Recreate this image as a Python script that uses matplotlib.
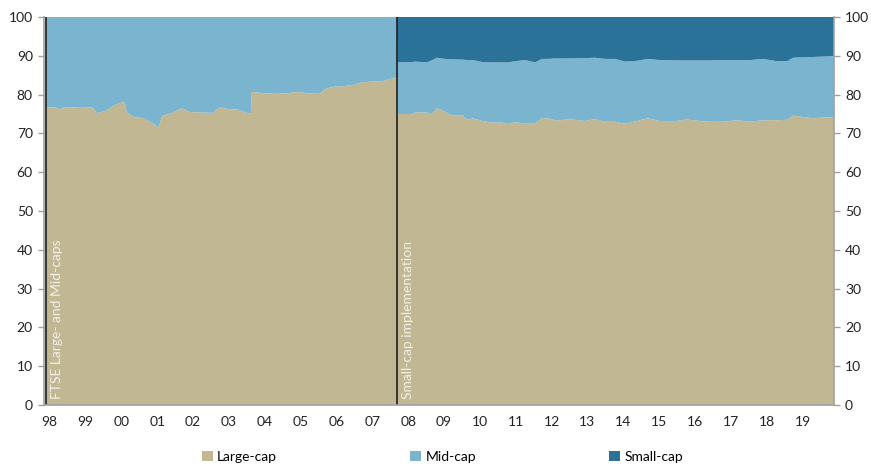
import matplotlib
matplotlib.use("Agg")
import matplotlib.pyplot as plt
from matplotlib.patches import Patch

plt.rcParams['font.family'] = ['Lato', 'DejaVu Sans']

# share of index by size bucket, %
dates = [
    1997.89, 1998.14, 1998.28, 1998.42, 1998.84, 1999.20, 1999.31, 1999.59, 1999.81, 1999.95,
    2000.09, 2000.15, 2000.37, 2000.60, 2000.79, 2000.93, 2001.04, 2001.13, 2001.43, 2001.68,
    2001.91, 2002.19, 2002.55, 2002.74, 2003.02, 2003.22, 2003.53, 2003.61, 2003.64, 2004.00,
    2004.34, 2004.70, 2004.89, 2005.26, 2005.54, 2005.68, 2005.90, 2006.23, 2006.46, 2006.74,
    2007.29, 2007.63, 2007.68,
    2007.71, 2008.10, 2008.21, 2008.52, 2008.66, 2008.80, 2009.02, 2009.22, 2009.53, 2009.64,
    2009.81, 2010.06, 2010.34, 2010.62, 2010.78, 2010.98, 2011.26, 2011.54, 2011.73, 2011.90,
    2012.09, 2012.29, 2012.46, 2012.93, 2013.21, 2013.49, 2013.77, 2014.05, 2014.38, 2014.69,
    2015.02, 2015.50, 2015.78, 2016.14, 2016.42, 2016.78, 2017.17, 2017.54, 2017.90, 2018.29,
    2018.57, 2018.74, 2019.02, 2019.30, 2019.57, 2019.88,
]
large_cap = [
    76.7, 76.7, 76.2, 76.8, 76.6, 76.7, 75.2, 75.9, 77.3, 77.8,
    78.1, 75.4, 74.1, 74.0, 73.0, 72.3, 71.5, 74.5, 75.3, 76.5,
    75.5, 75.4, 75.3, 76.7, 76.2, 76.2, 75.2, 75.0, 80.7, 80.3,
    80.2, 80.4, 80.7, 80.3, 80.2, 81.4, 82.0, 82.2, 82.5, 83.2,
    83.5, 84.3, 84.5,
    75.0, 75.0, 75.4, 75.4, 74.9, 76.5, 75.6, 74.6, 74.6, 73.5,
    73.9, 73.2, 72.8, 72.8, 72.4, 72.9, 72.5, 72.5, 73.9, 73.9,
    73.4, 73.4, 73.7, 73.2, 73.7, 73.0, 73.0, 72.5, 73.2, 73.9,
    73.2, 73.2, 73.6, 73.2, 73.0, 73.0, 73.4, 73.0, 73.4, 73.4,
    73.5, 74.6, 74.2, 73.9, 74.1, 74.2,
]
mid_cap = [
    23.3, 23.3, 23.8, 23.2, 23.4, 23.3, 24.8, 24.1, 22.7, 22.2,
    21.9, 24.6, 25.9, 26.0, 27.0, 27.7, 28.5, 25.5, 24.7, 23.5,
    24.5, 24.6, 24.7, 23.3, 23.8, 23.8, 24.8, 25.0, 19.3, 19.7,
    19.8, 19.6, 19.3, 19.7, 19.8, 18.6, 18.0, 17.8, 17.5, 16.8,
    16.5, 15.7, 15.5,
    13.3, 13.4, 13.1, 12.9, 13.9, 13.0, 13.6, 14.5, 14.4, 15.4,
    15.0, 15.2, 15.5, 15.5, 15.9, 15.7, 16.4, 15.8, 15.3, 15.3,
    15.9, 15.9, 15.6, 16.2, 15.8, 16.2, 16.2, 16.0, 15.5, 15.3,
    15.7, 15.6, 15.2, 15.6, 15.8, 15.9, 15.5, 15.9, 15.8, 15.2,
    15.1, 14.9, 15.4, 15.8, 15.7, 15.7,
]
small_cap = [
    0, 0, 0, 0, 0, 0, 0, 0, 0, 0,
    0, 0, 0, 0, 0, 0, 0, 0, 0, 0,
    0, 0, 0, 0, 0, 0, 0, 0, 0, 0,
    0, 0, 0, 0, 0, 0, 0, 0, 0, 0,
    0, 0, 0,
    11.7, 11.6, 11.5, 11.7, 11.2, 10.5, 10.8, 10.9, 11.0, 11.1,
    11.1, 11.6, 11.7, 11.7, 11.7, 11.4, 11.1, 11.7, 10.8, 10.8,
    10.7, 10.7, 10.7, 10.6, 10.5, 10.8, 10.8, 11.5, 11.3, 10.8,
    11.1, 11.2, 11.2, 11.2, 11.2, 11.1, 11.1, 11.1, 10.8, 11.4,
    11.4, 10.5, 10.4, 10.3, 10.2, 10.1,
]
series_names = ["Large-cap", "Mid-cap", "Small-cap"]
tick_years = list(range(1998, 2020))
tick_labels = [str(y)[2:] for y in tick_years]
events = [1997.90, 2007.70]
event_labels = ["FTSE Large- and Mid-caps", "Small-cap implementation"]

colors = ["#C1B793", "#7BB4CF", "#2B7298"]
grey = "#A0A0A0"

fig = plt.figure(figsize=(8.71, 4.67), dpi=100)
ax = fig.add_axes([0.0505, 0.1328, 0.907, 0.8308])

ax.stackplot(dates, large_cap, mid_cap, small_cap, colors=colors, linewidth=0)

# event markers with rotated notes
for x, lab in zip(events, event_labels):
    ax.axvline(x, color="#1E1E1E", lw=1.2)
    ax.text(x + 0.14, 1.5, lab, rotation=90, ha="left", va="bottom",
            color="#F2F0E8", fontsize=10)

ax.set_xlim(1997.84, dates[-1])
ax.set_ylim(0, 100)
ax.set_yticks(range(0, 101, 10))
ax.set_xticks(tick_years)
ax.set_xticklabels(tick_labels)
ax.tick_params(axis="x", length=0, pad=8, labelsize=10, colors="#222222")
ax.tick_params(axis="y", length=4, width=1, color=grey, labelsize=10,
               labelcolor="#222222", left=True, right=True,
               labelleft=True, labelright=True, pad=4)

ax.spines["top"].set_visible(False)
for s in ["left", "right", "bottom"]:
    ax.spines[s].set_color(grey)
    ax.spines[s].set_linewidth(1.2)

handles = [Patch(facecolor=c, edgecolor="none") for c in colors]
fig.legend(handles, series_names, loc="lower center", bbox_to_anchor=(0.508, -0.018),
           ncol=3, frameon=False, fontsize=10, handlelength=0.8, handleheight=0.8,
           handletextpad=0.3, columnspacing=9.6)

fig.savefig("out.png", dpi=100)
